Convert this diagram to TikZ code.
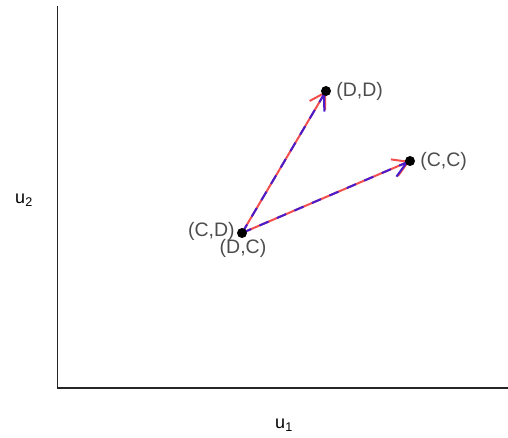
\documentclass[tikz,border=0pt]{standalone}
\usepackage{fontspec}
\setsansfont{Liberation Sans}
\usetikzlibrary{arrows.meta, positioning, backgrounds}
\definecolor{movered}{RGB}{242,78,78}
\definecolor{moveblue}{RGB}{72,28,204}
\definecolor{labelgray}{RGB}{77,77,77}
\tikzset{
  outcome/.style={
    circle, fill=black, inner sep=0pt, minimum size=10pt
  },
  outlabel/.style={
    font=\fontsize{19.5}{22}\selectfont\sffamily, text=labelgray, inner sep=2pt
  },
  axtitle/.style={
    font=\fontsize{18}{20}\selectfont\sffamily, text=black, inner sep=0pt
  },
  axisline/.style={line width=1.1pt, draw=black!85},
  moveline/.style={-{Straight Barb[length=15pt, width=18pt, line width=2pt]}, line width=2pt, draw=movered},
  movedash/.style={-{Straight Barb[length=15pt, width=18pt, line width=2pt, right]}, line width=2pt, draw=moveblue, dash pattern=on 10pt off 9pt},
}

\begin{document}
\begin{tikzpicture}[x=1pt, y=-1pt]
    \useasboundingbox (0,0) rectangle (508,438);

    % axes
    \coordinate (top) at (57.5,6);
    \coordinate (origin) at (57.5,388);
    \coordinate (right) at (508,388);
    \draw[axisline] (top) -- (origin) -- (right);
    \node[axtitle] (u1) at (284,425) {u\textsubscript{1}};
    \node[axtitle] (u2) at (24,200) {u\textsubscript{2}};

    % outcomes
    \node[outcome] (cd) at (242,233) {};
    \node[outcome] (dd) at (326,91) {};
    \node[outcome] (cc) at (410,161) {};

    \node[outlabel, left=0pt of cd, yshift=2pt] (cdlab) {(C,D)};
    \node[outlabel, below=-1pt of cd, xshift=1pt] (dclab) {(D,C)};
    \node[outlabel, right=3pt of dd] (ddlab) {(D,D)};
    \node[outlabel, right=3pt of cc] (cclab) {(C,C)};

    % moves
    \begin{scope}[on background layer]
      \draw[moveline] (cd.center) -- (dd.center);
      \draw[movedash] (cd.center) -- (dd.center);
      \draw[moveline] (cd.center) -- (cc.center);
      \draw[movedash] (cd.center) -- (cc.center);
    \end{scope}
  \end{tikzpicture}
\end{document}
